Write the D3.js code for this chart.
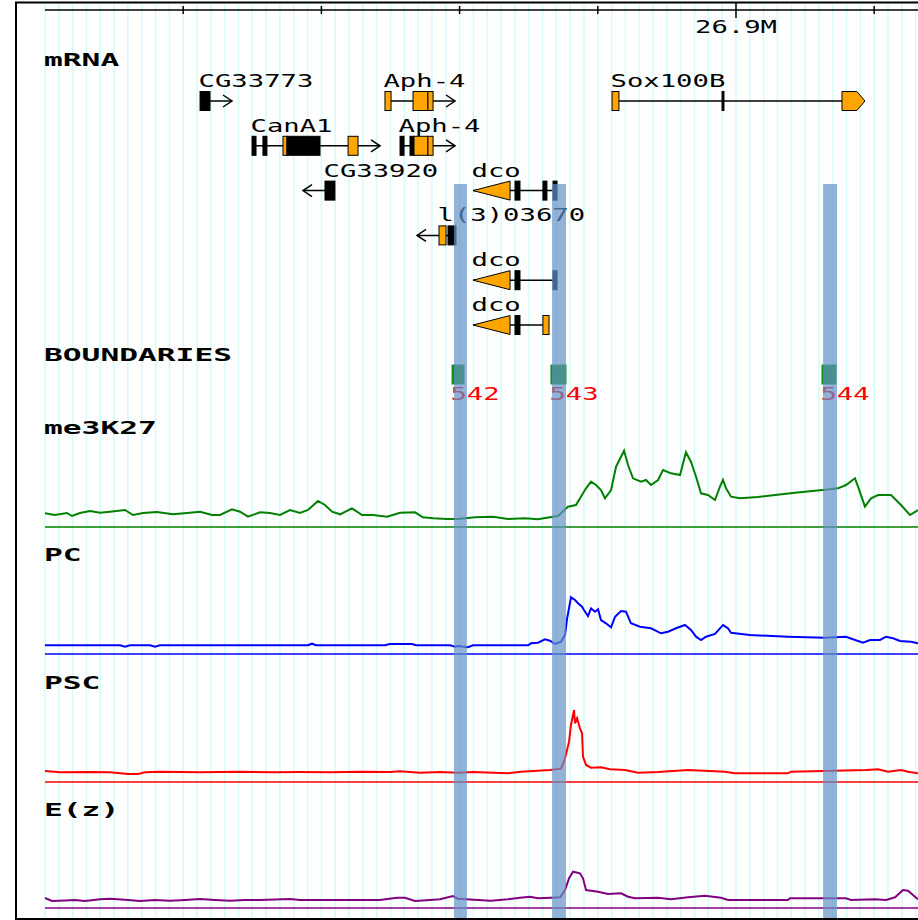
<!DOCTYPE html>
<html>
<head>
<meta charset="utf-8">
<script src="https://cdn.jsdelivr.net/npm/d3@7"></script>
<style>
  body { margin: 0; background: #fff; }
</style>
</head>
<body>
<svg id="browser" width="918" height="920"></svg>
<script>
// region shown, positions in the arrays below are kb offsets from regionStart
var regionStart = 26850000;
var regionLengthKb = 63.17;

var rulerStepKb = 10;
var gridStepKb = 1;

// gene models: [startKb, endKb, kind]  kind: "cds" (orange) / "nc" (black)
var geneNames  = ["CG33773", "Aph-4", "Sox100B", "CanA1", "Aph-4", "CG33920", "dco", "l(3)03670", "dco", "dco"];
var geneRows   = [0, 0, 0, 1, 1, 2, 2, 3, 4, 5];
var geneStrand = [1, 1, 1, 1, 1, -1, -1, -1, -1, -1];
var geneTip    = [null, null, "pent", null, null, null, "tri", null, "tri", "tri"];
var geneExons  = [
  [[11.22, 11.94, "nc"]],
  [[24.60, 25.04, "cds"], [26.63, 27.71, "cds"], [27.71, 28.08, "cds"]],
  [[41.03, 41.53, "cds"], [48.99, 49.13, "nc"], [57.67, 59.33, "cds"]],
  [[14.98, 15.27, "nc"], [15.77, 16.06, "nc"], [17.22, 17.51, "cds"], [17.51, 19.90, "nc"], [21.93, 22.65, "cds"]],
  [[25.69, 25.98, "nc"], [26.41, 26.70, "nc"], [26.70, 27.71, "cds"], [27.71, 28.08, "cds"]],
  [[20.26, 20.98, "nc"]],
  [[30.97, 33.65, "cds"], [34.01, 34.37, "nc"], [36.03, 36.32, "nc"], [36.76, 37.05, "nc"]],
  [[28.51, 29.02, "cds"], [29.16, 29.74, "nc"]],
  [[30.97, 33.65, "cds"], [34.01, 34.37, "nc"], [36.76, 37.05, "nc"]],
  [[30.97, 33.65, "cds"], [34.01, 34.37, "nc"], [36.03, 36.47, "cds"]]
];

// boundary elements
var boundaryIds     = ["542", "543", "544"];
var boundaryStartKb = [29.45, 36.61, 56.22];
var boundaryEndKb   = [30.32, 37.70, 57.24];

// highlighted boundary regions
var highlightStartKb = [29.59, 36.69, 56.30];
var highlightEndKb   = [30.53, 37.70, 57.31];

// ChIP signal tracks: [kb, signal]
var me3K27 = [[0.00,1.37],[0.72,1.2],[1.59,1.4],[1.95,1.1],[2.53,1.4],[3.26,1.6],[3.98,1.43],[4.70,1.53],[5.79,1.7],[6.37,1.2],[7.09,1.4],[8.10,1.5],[9.26,1.27],[10.28,1.4],[11.22,1.53],[12.08,1.2],[12.66,1.2],[13.53,1.77],[14.11,1.53],[14.69,1.03],[15.56,1.47],[16.28,1.4],[17.00,1.2],[17.73,1.7],[18.45,1.4],[19.03,1.7],[19.75,2.6],[20.26,2.2],[20.77,1.53],[21.35,1.27],[22.21,1.87],[22.94,1.2],[23.73,1.2],[24.75,1.03],[25.69,1.43],[26.77,1.47],[27.35,0.97],[28.08,0.87],[29.09,0.8],[29.88,0.8],[31.11,0.97],[32.42,1.03],[33.50,0.8],[34.73,0.87],[35.67,0.77],[36.54,0.97],[37.12,1.1],[37.84,2.03],[38.42,2.2],[38.78,3.03],[39.15,3.87],[39.51,4.53],[39.87,4.2],[40.23,3.7],[40.52,2.87],[40.96,3.7],[41.32,6.03],[41.90,7.63],[42.19,6.2],[42.55,4.87],[43.12,4.53],[43.49,4.7],[43.85,4.2],[44.36,4.7],[44.72,5.7],[45.30,5.37],[45.95,5.2],[46.38,7.47],[46.74,6.53],[47.11,5.03],[47.47,3.37],[47.97,3.2],[48.48,2.7],[48.84,4.03],[49.06,4.7],[49.28,3.87],[49.64,3.03],[50.29,2.87],[51.59,3.0],[54.27,3.43],[56.80,3.77],[57.38,3.87],[57.96,4.2],[58.61,4.87],[58.83,4.03],[59.33,2.03],[59.77,2.87],[60.28,3.2],[61.22,3.2],[61.94,2.2],[62.59,1.2],[63.17,1.7]];

var PC = [[0.00,0.87],[5.43,0.87],[5.79,0.73],[6.15,0.87],[7.60,0.87],[7.96,0.73],[8.32,0.87],[19.03,0.87],[19.32,1.03],[19.61,0.87],[24.60,0.87],[24.96,1.0],[26.56,1.0],[26.85,0.87],[29.31,0.87],[29.67,0.73],[29.88,0.8],[30.61,0.67],[30.97,0.87],[33.50,0.87],[34.95,0.87],[35.17,1.07],[35.67,1.13],[36.18,1.47],[36.54,1.33],[36.90,1.0],[37.34,1.23],[37.63,1.9],[37.77,3.47],[38.06,5.67],[38.35,5.4],[38.57,5.07],[38.86,4.73],[39.00,4.4],[39.29,3.8],[39.51,4.57],[39.80,4.23],[40.02,4.47],[40.23,3.4],[40.59,3.07],[40.96,2.67],[41.25,3.73],[41.68,4.3],[42.04,4.23],[42.40,3.07],[43.05,2.73],[43.85,2.57],[44.57,2.07],[45.08,2.23],[45.66,2.57],[46.31,2.9],[46.74,2.4],[47.11,1.73],[47.47,1.4],[47.83,1.73],[48.48,2.0],[48.84,2.57],[49.06,2.9],[49.42,2.57],[49.64,2.13],[51.01,1.9],[53.76,1.73],[56.44,1.63],[57.96,1.73],[58.47,1.47],[59.19,1.13],[59.70,1.4],[60.42,1.4],[60.86,1.73],[61.36,1.57],[61.87,1.3],[62.66,1.23],[63.17,1.07]];

var PSC = [[0.00,1.1],[1.09,0.97],[3.26,1.0],[4.70,0.97],[6.01,0.8],[6.73,0.8],[7.24,0.97],[8.32,1.03],[11.22,0.97],[14.11,1.03],[16.64,0.97],[18.45,1.0],[20.62,0.97],[22.79,1.03],[24.96,1.0],[25.69,1.07],[27.14,0.93],[28.58,1.0],[29.88,0.93],[30.97,1.0],[33.50,0.87],[34.44,1.03],[36.54,1.2],[37.34,1.33],[37.63,2.37],[37.92,4.03],[38.06,5.7],[38.28,7.2],[38.35,5.87],[38.50,6.37],[38.71,5.37],[38.86,4.87],[38.93,2.53],[39.15,1.7],[39.51,1.43],[40.23,1.47],[40.88,1.27],[41.97,1.2],[42.91,0.93],[44.36,1.0],[46.53,1.2],[49.20,1.03],[49.93,0.87],[53.76,0.87],[53.98,1.03],[59.41,1.2],[60.28,1.27],[61.00,1.03],[61.94,1.2],[62.45,1.03],[63.17,0.87]];

var Ez = [[0.00,1.0],[0.51,0.7],[1.45,0.75],[2.17,0.8],[2.89,0.7],[3.98,0.87],[4.70,0.93],[5.79,0.83],[6.87,0.7],[7.96,0.8],[9.05,0.73],[10.13,0.8],[11.22,0.9],[12.30,0.8],[13.39,0.73],[14.47,0.8],[15.56,0.8],[17.73,0.9],[18.45,0.8],[20.62,0.8],[22.79,0.8],[24.24,0.8],[25.47,1.03],[26.05,1.03],[26.77,0.7],[27.86,0.8],[28.58,0.87],[29.52,1.2],[29.88,0.93],[31.33,0.8],[32.27,0.73],[33.50,0.87],[34.37,1.03],[35.09,1.13],[35.67,0.97],[36.61,1.03],[37.27,1.07],[37.63,1.8],[37.92,2.97],[38.21,3.63],[38.71,3.47],[38.93,2.97],[39.15,1.8],[40.02,1.63],[40.74,1.4],[41.68,1.47],[42.19,1.13],[42.69,0.97],[44.36,1.03],[45.30,0.87],[46.53,1.07],[47.76,1.23],[48.92,1.03],[49.42,0.8],[53.76,0.8],[53.91,0.97],[57.96,0.97],[58.32,0.8],[60.06,0.87],[60.86,0.8],[61.51,1.07],[62.08,1.8],[62.45,1.73],[62.95,1.13],[63.17,0.87]];

var signalNames  = ["me3K27", "PC", "PSC", "E(z)"];
var signalData   = [me3K27, PC, PSC, Ez];
var signalColors = ["#008000", "#0000ff", "#ff0000", "#800080"];
var signalMax = 8;

draw();

function draw() {
    var svg = d3.select("#browser");
    var left = 45, right = 918;
    var regionEnd = regionStart + regionLengthKb * 1000;

    var pos = kb => regionStart + kb * 1000;
    var x = d3.scaleLinear().domain([regionStart, regionEnd]).range([left, right]);

    // text is a stretched mono font, like the old gd bitmap fonts
    var plainFont = "'DejaVu Sans Mono', monospace";
    function label(g, txt, xx, yy, bold, color) {
        return g.append("text")
            .attr("x", xx).attr("y", yy)
            .attr("font-family", plainFont)
            .attr("font-size", bold ? 18 : 17)
            .attr("font-weight", bold ? "bold" : "normal")
            .attr("fill", color || "#000")
            .attr("textLength", txt.length * (bold ? 18.8 : 16.4))
            .attr("lengthAdjust", "spacingAndGlyphs")
            .text(txt);
    }

    // grid lines every kb
    svg.append("g").selectAll("line")
        .data(d3.range(regionStart, regionEnd, gridStepKb * 1000))
        .join("line")
        .attr("x1", d => x(d)).attr("x2", d => x(d))
        .attr("y1", 3).attr("y2", 919)
        .attr("stroke", "#d6fbfb").attr("stroke-width", 1.6);

    // ruler
    var ruler = svg.append("g");
    ruler.append("line").attr("x1", left).attr("x2", right).attr("y1", 10).attr("y2", 10)
        .attr("stroke", "#000").attr("stroke-width", 1.5);
    var ticks = d3.range(regionStart + rulerStepKb * 1000, regionEnd, rulerStepKb * 1000);
    ruler.selectAll("line.tick").data(ticks).join("line").attr("class", "tick")
        .attr("x1", d => x(d)).attr("x2", d => x(d))
        .attr("y1", d => d % 50000 == 0 ? 2 : 6)
        .attr("y2", d => d % 50000 == 0 ? 18 : 14)
        .attr("stroke", "#000").attr("stroke-width", 1.5);
    ticks.filter(d => d % 50000 == 0).forEach(function(d) {
        var t = (d / 1e6) + "M";
        label(ruler, t, x(d) - t.length * 16.4 / 2, 33, false);
    });

    // mRNA track
    var genesG = svg.append("g");
    label(genesG, "mRNA", 44, 66, true);
    var rowY = r => 101 + r * 44.8;
    var half = 9.5;

    geneNames.forEach(function(name, i) {
        var g = genesG.append("g");
        var exons = geneExons[i];
        var cy = rowY(geneRows[i]);
        var x0 = x(pos(exons[0][0])), x1 = x(pos(exons[exons.length - 1][1]));
        var strand = geneStrand[i];
        var ext = geneTip[i] ? 0 : 22;
        var lx0 = strand < 0 ? x0 - ext : x0;
        var lx1 = strand > 0 ? x1 + ext : x1;

        g.append("line").attr("x1", lx0).attr("x2", lx1).attr("y1", cy).attr("y2", cy)
            .attr("stroke", "#000").attr("stroke-width", 1.5);
        if (!geneTip[i]) {
            var tipX = strand > 0 ? lx1 : lx0;
            g.append("path")
                .attr("d", `M${tipX - strand * 9},${cy - 6}L${tipX},${cy}L${tipX - strand * 9},${cy + 6}`)
                .attr("fill", "none").attr("stroke", "#000").attr("stroke-width", 1.5);
        }

        exons.forEach(function(e, j) {
            var ex0 = x(pos(e[0])), ex1 = x(pos(e[1]));
            var fill = e[2] == "cds" ? "#ffa500" : "#000";
            var isTipExon = geneTip[i] && ((strand > 0 && j == exons.length - 1) || (strand < 0 && j == 0));
            if (isTipExon && geneTip[i] == "tri") {
                g.append("path")
                    .attr("d", `M${ex0},${cy}L${ex1},${cy - half}L${ex1},${cy + half}Z`)
                    .attr("fill", fill).attr("stroke", "#000").attr("stroke-width", 1);
            } else if (isTipExon && geneTip[i] == "pent") {
                var p = 8;
                g.append("path")
                    .attr("d", `M${ex0},${cy - half}L${ex1 - p},${cy - half}L${ex1},${cy}L${ex1 - p},${cy + half}L${ex0},${cy + half}Z`)
                    .attr("fill", fill).attr("stroke", "#000").attr("stroke-width", 1);
            } else {
                g.append("rect")
                    .attr("x", ex0).attr("y", cy - half)
                    .attr("width", Math.max(ex1 - ex0, 1)).attr("height", half * 2)
                    .attr("fill", fill).attr("stroke", "#000").attr("stroke-width", 1);
            }
        });
        label(g, name, x0 - 1.5, cy - 14, false);
    });

    // boundaries track
    var bG = svg.append("g");
    label(bG, "BOUNDARIES", 44, 361, true);
    boundaryIds.forEach(function(id, i) {
        var b0 = x(pos(boundaryStartKb[i])), b1 = x(pos(boundaryEndKb[i]));
        bG.append("rect").attr("x", b0).attr("y", 365).attr("width", b1 - b0).attr("height", 19)
            .attr("fill", "#0c8c0c").attr("stroke", "#1a9a3a").attr("stroke-width", 1);
        label(bG, id, b0 - 1.5, 400, false, "#ff0000");
    });

    // xy signal tracks
    var titleY = [434, 561, 689, 816];
    var baseY  = [527, 654, 782, 908];
    signalNames.forEach(function(name, i) {
        var g = svg.append("g");
        label(g, name, 44, titleY[i], true);
        var y = d3.scaleLinear().domain([0, signalMax]).range([baseY[i], baseY[i] - 80]);
        g.append("line").attr("x1", left).attr("x2", right)
            .attr("y1", y(0)).attr("y2", y(0))
            .attr("stroke", signalColors[i]).attr("stroke-width", 1.5);
        var line = d3.line().x(d => x(pos(d[0]))).y(d => y(d[1]));
        g.append("path").datum(signalData[i])
            .attr("d", line)
            .attr("fill", "none")
            .attr("stroke", signalColors[i])
            .attr("stroke-width", 2)
            .attr("stroke-linejoin", "miter");
    });

    // highlight bars over boundaries
    svg.append("g").selectAll("rect")
        .data(highlightStartKb.map((s, i) => [s, highlightEndKb[i]]))
        .join("rect")
        .attr("x", d => x(pos(d[0])))
        .attr("width", d => x(pos(d[1])) - x(pos(d[0])))
        .attr("y", 184).attr("height", 736)
        .attr("fill", "rgb(100,145,200)").attr("fill-opacity", 0.7);

    // frame
    svg.append("rect").attr("x", 16).attr("y", 2.5).attr("width", 1000).attr("height", 916.5)
        .attr("fill", "none").attr("stroke", "#000").attr("stroke-width", 2);
}
</script>
</body>
</html>
